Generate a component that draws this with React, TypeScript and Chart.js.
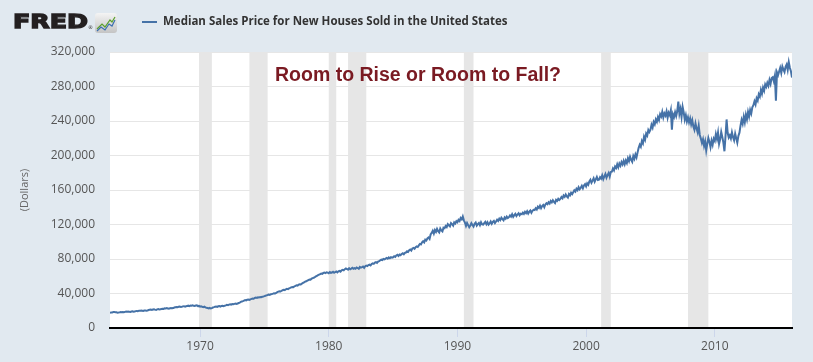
import { useEffect, useRef } from "react";
import { Chart, registerables } from "chart.js";

Chart.register(...registerables);

// Monthly median sales price (USD), starting January 1963
const START_YEAR = 1963;
const prices1960s = [
  17800, 18000, 17900, 18500, 18500, 18400, 18200, 17800, 17900, 18100, 18600, 18200,
  18500, 18300, 18700, 19000, 18800, 19200, 18700, 18600, 19100, 19300, 18900, 19000,
  19600, 19800, 19500, 20100, 19900, 20300, 20000, 19700, 20200, 20400, 20100, 20300,
  20800, 21100, 21300, 21000, 21500, 21700, 21300, 21000, 21600, 21900, 21400, 21700,
  22100, 22400, 22200, 22800, 22600, 23000, 22700, 22400, 23000, 23200, 22800, 23100,
  23700, 24000, 24300, 24100, 24600, 24900, 24500, 24700, 25100, 25300, 24800, 25200,
  25600, 25900, 25400, 26100, 25800, 26300, 25700, 25500, 26000, 26200, 25400, 25600,
];
const prices1970s = [
  24800, 25200, 24600, 24200, 24700, 23900, 23400, 23100, 22800, 23400, 22600, 23000,
  23800, 24200, 24700, 25000, 24500, 25200, 25400, 24900, 25600, 25800, 25300, 25900,
  26200, 26800, 26500, 27100, 27400, 27000, 27800, 27500, 28000, 28300, 27900, 28400,
  29000, 29500, 30200, 30800, 31200, 31800, 32400, 32000, 32800, 33100, 32600, 33300,
  33800, 34200, 33900, 34800, 35200, 34900, 35600, 35300, 36000, 35700, 36200, 36500,
  36900, 37400, 37800, 38200, 38700, 38300, 39100, 39400, 39800, 40300, 40000, 40800,
  41500, 42100, 42600, 42300, 43200, 43800, 44300, 44000, 44900, 45400, 45100, 46000,
  46500, 47100, 47600, 47300, 48400, 48900, 49600, 49200, 50300, 50800, 50500, 51500,
  52300, 53000, 53700, 54200, 54900, 55600, 56300, 56000, 57200, 57900, 58300, 59000,
  59800, 60500, 61200, 61800, 62400, 63200, 62800, 63800, 64300, 63700, 64600, 64200,
];
const prices1980s = [
  63500, 64800, 63900, 64300, 65200, 64100, 64900, 65500, 64400, 65800, 66300, 65400,
  66800, 67500, 66900, 68200, 69000, 68400, 67600, 69300, 68100, 68900, 69800, 68700,
  69400, 68800, 70200, 69500, 68600, 70800, 69900, 70500, 71200, 69800, 71600, 72300,
  71800, 72900, 73500, 72600, 74100, 75000, 74400, 75800, 76300, 75500, 76900, 77400,
  78500, 79200, 78800, 80100, 79600, 80500, 81200, 80300, 81800, 80900, 82100, 81500,
  82000, 83200, 82500, 84100, 84800, 83600, 85200, 84400, 85900, 86600, 85500, 87100,
  87500, 88900, 88200, 90100, 91000, 89800, 92300, 92900, 91800, 93800, 94600, 93900,
  95800, 97500, 96900, 99300, 100600, 99200, 102400, 101500, 103800, 104900, 103200, 108500,
  110200, 112800, 109500, 113600, 111400, 114900, 112300, 110800, 115200, 113100, 111900, 116300,
  115800, 118200, 116900, 120400, 119100, 117800, 121600, 120300, 118700, 122500, 121200, 123800,
];
const prices1990s = [
  122600, 125300, 123900, 127500, 126100, 129300, 124800, 122200, 118400, 121700, 119300, 116800,
  118900, 121500, 119400, 117600, 120900, 122300, 118700, 120500, 121800, 119200, 122600, 120100,
  119800, 121600, 123100, 120400, 122700, 119900, 121300, 123600, 120800, 122900, 124100, 121700,
  123500, 125600, 124200, 126800, 125100, 127900, 126300, 124900, 128200, 126700, 129100, 127400,
  128500, 130600, 129100, 131800, 128900, 130900, 132300, 129800, 131600, 133100, 130700, 132500,
  131900, 133800, 132200, 134600, 133100, 135400, 132700, 134900, 136200, 133600, 135800, 137100,
  136800, 138900, 137400, 140600, 139200, 141800, 138900, 141300, 142700, 140100, 143200, 144600,
  143500, 145800, 144200, 147300, 145600, 148100, 146200, 144900, 148600, 147400, 149800, 148300,
  149600, 151800, 150300, 153700, 152100, 154900, 152600, 151200, 155400, 153900, 156800, 155100,
  157300, 159600, 158100, 161400, 159800, 163200, 160700, 162500, 164800, 161900, 165300, 166900,
];
const prices2000s = [
  164200, 167800, 166100, 169900, 171800, 168400, 170900, 173600, 169700, 172400, 175100, 171500,
  171900, 174800, 173200, 176900, 172600, 175800, 178600, 174300, 177200, 179800, 175600, 180900,
  181200, 184900, 182700, 187300, 185600, 189800, 186400, 190700, 188200, 192400, 189600, 193800,
  189900, 194200, 191300, 196800, 193500, 198600, 195100, 192800, 199400, 196300, 201200, 197800,
  203600, 208900, 212500, 210200, 216800, 214100, 221700, 218300, 225400, 223100, 229600, 227200,
  229800, 235600, 232400, 238900, 236200, 241800, 239100, 244700, 241300, 247900, 245200, 250600,
  244100, 248900, 246300, 251200, 243800, 249600, 246900, 252400, 229800, 247800, 244600, 250300,
  245800, 251600, 262600, 248300, 253900, 244700, 256400, 250100, 241600, 246800, 239500, 244200,
  238400, 242900, 236100, 240800, 233600, 229800, 237200, 231400, 226900, 234500, 223800, 219600,
  214600, 218900, 211200, 216300, 205800, 213700, 220400, 215800, 209600, 217300, 212400, 219500,
];
const prices2010s = [
  216900, 224800, 219300, 226500, 213400, 218700, 227300, 221600, 214900, 204900, 222400, 241800,
  226300, 220900, 223400, 219800, 226800, 221300, 217600, 225400, 220100, 214900, 222700, 226500,
  234600, 241200, 236800, 244900, 238600, 247300, 241900, 250600, 245200, 252800, 248700, 255900,
  258300, 262800, 259200, 266400, 263700, 270900, 268300, 276100, 271600, 278800, 275200, 282400,
  279600, 284300, 280900, 287600, 283100, 289900, 290800, 286200, 292400, 263500, 296300, 293100,
  297400, 301600, 295800, 303200, 299500, 296800, 302900, 305600, 299200, 308200, 301800, 297600,
  290400,
];

// NBER recessions (decimal years)
const recessionStarts = [1969.917, 1973.833, 1980.0, 1981.5, 1990.5, 2001.167, 2007.917];
const recessionEnds = [1970.917, 1975.25, 1980.583, 1982.917, 1991.25, 2001.917, 2009.5];

const xTickYears = [1970, 1980, 1990, 2000, 2010];
const yTickValues = [0, 40000, 80000, 120000, 160000, 200000, 240000, 280000, 320000];

const seriesLabel = "Median Sales Price for New Houses Sold in the United States";
const chartTitle = "Room to Rise or Room to Fall?";
const yAxisTitle = "(Dollars)";

export default function App() {
  const ref = useRef<HTMLCanvasElement>(null);

  useEffect(() => {
    document.body.style.margin = "0";
    const prices = [
      ...prices1960s,
      ...prices1970s,
      ...prices1980s,
      ...prices1990s,
      ...prices2000s,
      ...prices2010s,
    ];
    const points = prices.map((v, i) => ({ x: START_YEAR + i / 12, y: v }));

    const backgroundPlugin = {
      id: "fredBackground",
      beforeDraw(chart: any) {
        const { ctx, chartArea: a } = chart;
        const xs = chart.scales.x;
        ctx.save();
        ctx.fillStyle = "#e1e9f0";
        ctx.fillRect(0, 0, chart.width, chart.height);
        ctx.fillStyle = "#ffffff";
        ctx.fillRect(a.left, a.top, a.right - a.left, a.bottom - a.top);
        ctx.fillStyle = "#e6e6e6";
        recessionStarts.forEach((s, i) => {
          const x0 = xs.getPixelForValue(s);
          const x1 = xs.getPixelForValue(recessionEnds[i]);
          ctx.fillRect(x0, a.top, x1 - x0, a.bottom - a.top);
        });
        ctx.restore();
      },
    };

    const headerPlugin = {
      id: "fredHeader",
      afterDraw(chart: any) {
        const { ctx, chartArea: a } = chart;
        ctx.save();
        // FRED logo text
        ctx.font = 'bold 19px "DejaVu Sans"';
        const w = ctx.measureText("FRED").width;
        ctx.save();
        ctx.translate(13, 27.5);
        ctx.scale(75 / w, 1);
        ctx.fillStyle = "#231f20";
        ctx.strokeStyle = "#231f20";
        ctx.lineWidth = 1.3;
        ctx.lineJoin = "miter";
        ctx.textBaseline = "alphabetic";
        ctx.fillText("FRED", 0, 0);
        ctx.strokeText("FRED", 0, 0);
        ctx.restore();
        ctx.font = '5px "DejaVu Sans"';
        ctx.fillStyle = "#231f20";
        ctx.fillText("®", 88, 29);
        // small chart icon
        const ix = 95, iy = 13, iw = 22, ih = 20;
        const g = ctx.createLinearGradient(0, iy, 0, iy + ih);
        g.addColorStop(0, "#f4f4f4");
        g.addColorStop(1, "#c4c4c4");
        ctx.fillStyle = g;
        ctx.beginPath();
        ctx.roundRect(ix, iy, iw, ih, 3);
        ctx.fill();
        ctx.lineWidth = 1.2;
        ctx.strokeStyle = "#5aa02c";
        ctx.beginPath();
        ctx.moveTo(ix + 2, iy + 16);
        ctx.lineTo(ix + 7, iy + 11);
        ctx.lineTo(ix + 10, iy + 14);
        ctx.lineTo(ix + 15, iy + 7);
        ctx.lineTo(ix + 17, iy + 9);
        ctx.lineTo(ix + 20, iy + 4);
        ctx.stroke();
        ctx.strokeStyle = "#3a6fb0";
        ctx.beginPath();
        ctx.moveTo(ix + 2, iy + 18);
        ctx.lineTo(ix + 6, iy + 14);
        ctx.lineTo(ix + 10, iy + 17);
        ctx.lineTo(ix + 14, iy + 11);
        ctx.lineTo(ix + 17, iy + 13);
        ctx.lineTo(ix + 20, iy + 7);
        ctx.stroke();
        // legend
        ctx.strokeStyle = "#4572a7";
        ctx.lineWidth = 2;
        ctx.beginPath();
        ctx.moveTo(142, 22);
        ctx.lineTo(157, 22);
        ctx.stroke();
        ctx.font = 'bold 11.5px "Open Sans"';
        ctx.fillStyle = "#333333";
        ctx.textBaseline = "middle";
        ctx.fillText(seriesLabel, 163, 22);
        // in-plot title
        ctx.font = 'bold 19.5px "Liberation Sans"';
        ctx.fillStyle = "#7a1a22";
        ctx.textBaseline = "alphabetic";
        ctx.fillText(chartTitle, a.left + 165, a.top + 28.5);
        ctx.restore();
      },
    };

    const chart = new Chart(ref.current as HTMLCanvasElement, {
      type: "line",
      data: {
        datasets: [
          {
            label: seriesLabel,
            data: points,
            borderColor: "#4572a7",
            backgroundColor: "#4572a7",
            borderWidth: 2,
            pointRadius: 0,
            tension: 0,
            fill: false,
          },
        ],
      },
      options: {
        responsive: true,
        maintainAspectRatio: false,
        animation: false,
        parsing: false,
        layout: { padding: { top: 52, right: 21, left: 0, bottom: 0 } },
        plugins: {
          legend: { display: false },
          tooltip: { enabled: false },
          title: { display: false },
        },
        scales: {
          x: {
            type: "linear",
            min: 1963,
            max: 2016,
            afterBuildTicks: (s: any) => {
              s.ticks = xTickYears.map((v) => ({ value: v }));
            },
            afterFit: (s: any) => {
              s.height = 34;
            },
            grid: {
              display: true,
              drawOnChartArea: false,
              drawTicks: true,
              tickLength: 9,
              tickColor: "#ccd6eb",
              tickWidth: 1,
            },
            border: { display: true, color: "#000000", width: 2 },
            ticks: {
              color: "#555555",
              font: { family: '"Open Sans"', size: 12 },
              padding: 2,
              maxRotation: 0,
              autoSkip: false,
              callback: (v: any) => String(v),
            },
          },
          y: {
            type: "linear",
            min: 0,
            max: 320000,
            afterBuildTicks: (s: any) => {
              s.ticks = yTickValues.map((v) => ({ value: v }));
            },
            afterFit: (s: any) => {
              s.width = 110;
            },
            grid: {
              color: (c: any) => (c.tick && c.tick.value === 0 ? "rgba(0,0,0,0)" : "#e6e6e6"),
              drawTicks: false,
            },
            border: { display: false },
            ticks: {
              color: "#555555",
              font: { family: '"Open Sans"', size: 12 },
              padding: 15,
              callback: (v: any) => Number(v).toLocaleString("en-US"),
            },
            title: {
              display: true,
              text: yAxisTitle,
              color: "#666666",
              font: { family: '"Open Sans"', size: 11 },
              padding: { top: 18, bottom: 0 },
            },
          },
        },
      },
      plugins: [backgroundPlugin, headerPlugin],
    });

    return () => chart.destroy();
  }, []);

  return (
    <div style={{ position: "relative", width: 813, height: 362 }}>
      <canvas ref={ref} />
    </div>
  );
}
